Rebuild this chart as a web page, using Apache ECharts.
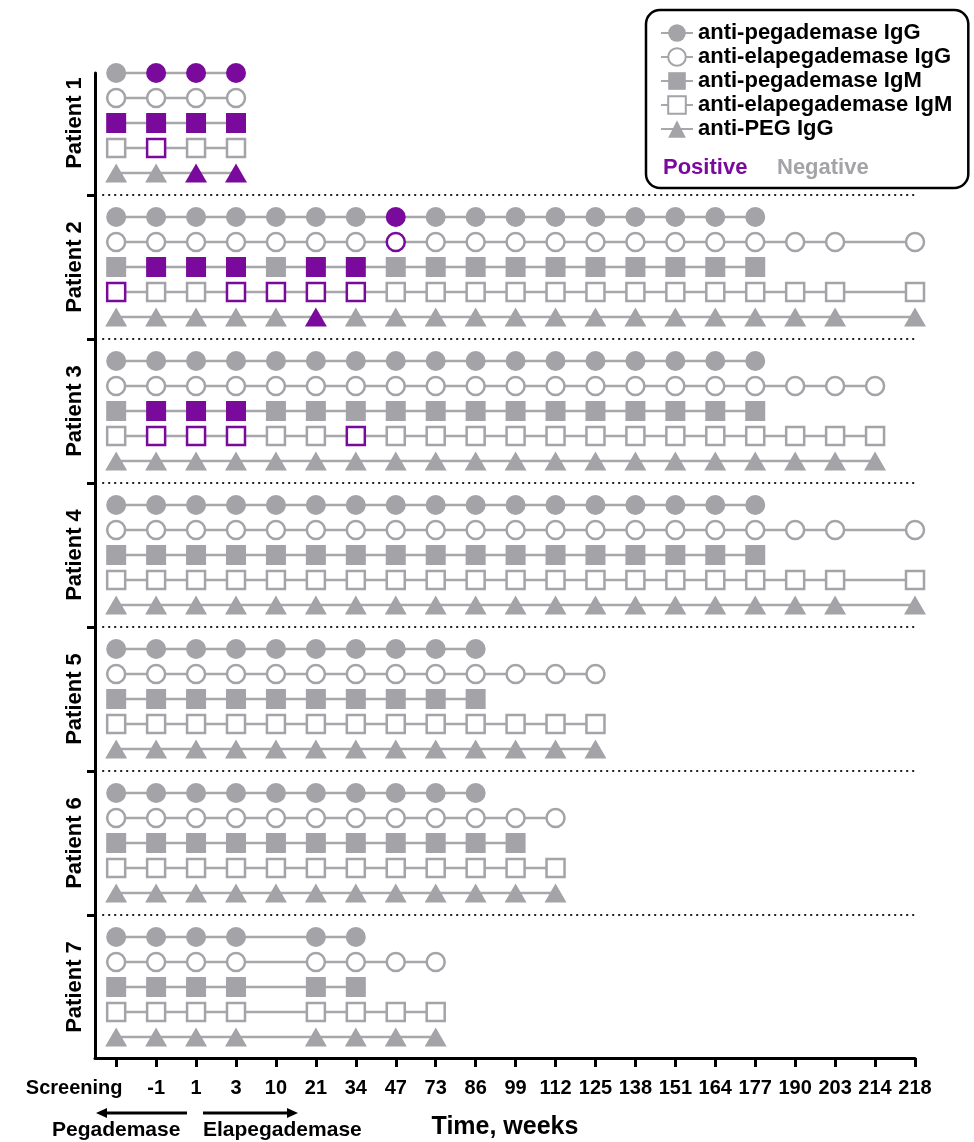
<!DOCTYPE html>
<html>
<head>
<meta charset="utf-8">
<script src="https://cdn.jsdelivr.net/npm/echarts@6/dist/echarts.min.js"></script>
<style>
  html, body { margin: 0; padding: 0; background: #fff; }
  #chart { width: 974px; height: 1142px; }
</style>
</head>
<body>
<div id="chart"></div>
<script>
// Visits, in weeks relative to the switch from pegademase to elapegademase
const timepoints = ['Screening', '-1', '1', '3', '10', '21', '34', '47', '73', '86', '99',
  '112', '125', '138', '151', '164', '177', '190', '203', '214', '218'];

const assays = ['anti-pegademase IgG', 'anti-elapegademase IgG', 'anti-pegademase IgM',
  'anti-elapegademase IgM', 'anti-PEG IgG'];

const patients = ['Patient 1', 'Patient 2', 'Patient 3', 'Patient 4', 'Patient 5', 'Patient 6', 'Patient 7'];

// One string per assay (same order as `assays`), one character per visit:
// 1 = positive, 0 = negative, - = no sample at that visit
const patient1 = ['0111', '0000', '1111', '0100', '0011'];
const patient2 = ['00000001000000000', '0000000100000000000-0', '01110110000000000',
  '1001111000000000000-0', '0000010000000000000-0'];
const patient3 = ['00000000000000000', '00000000000000000000', '01110000000000000',
  '01110010000000000000', '00000000000000000000'];
const patient4 = ['00000000000000000', '0000000000000000000-0', '00000000000000000',
  '0000000000000000000-0', '0000000000000000000-0'];
const patient5 = ['0000000000', '0000000000000', '0000000000', '0000000000000', '0000000000000'];
const patient6 = ['0000000000', '000000000000', '00000000000', '000000000000', '000000000000'];
const patient7 = ['0000-00', '0000-0000', '0000-00', '0000-0000', '0000-0000'];

const results = [patient1, patient2, patient3, patient4, patient5, patient6, patient7];

const FONT = '"Liberation Sans", Arial, Helvetica, sans-serif';
const PURPLE = '#7a0a9c';
const GRAY = '#a3a3a8';
const LINE_GRAY = '#a8a8ac';

// Vertical layout: each patient gets 5 rows plus a gap, measured in row units
const BLOCK = 5.76;
const HALF_GAP = (BLOCK - 4) / 2;

// Marker per assay
const markers = [
  { symbol: 'circle', size: 20, hollow: false },
  { symbol: 'circle', size: 18, hollow: true },
  { symbol: 'rect', size: 20, hollow: false },
  { symbol: 'rect', size: 18, hollow: true },
  { symbol: 'triangle', size: [22, 19], hollow: false }
];

const series = [];
results.forEach((rows, p) => {
  rows.forEach((codes, a) => {
    const m = markers[a];
    const data = [];
    for (let i = 0; i < codes.length; i++) {
      const c = codes[i];
      if (c === '-') continue;
      const col = c === '1' ? PURPLE : GRAY;
      data.push({
        value: [i, p * BLOCK + a],
        itemStyle: m.hollow
          ? { color: '#fff', borderColor: col, borderWidth: 2.5 }
          : { color: col, borderWidth: 0 }
      });
    }
    series.push({
      type: 'line',
      name: assays[a],
      data: data,
      symbol: m.symbol,
      symbolSize: m.size,
      showAllSymbol: true,
      clip: false,
      silent: true,
      z: 3,
      lineStyle: { color: LINE_GRAY, width: 2.5 },
      itemStyle: m.hollow
        ? { color: '#fff', borderColor: GRAY, borderWidth: 2.5 }
        : { color: GRAY, borderWidth: 0 },
      emphasis: { disabled: true }
    });
  });
});

// Dotted separators between patients
const separators = [];
const tickVals = [];
const labelVals = [];
for (let p = 0; p < patients.length; p++) {
  labelVals.push(p * BLOCK + 2);
  if (p > 0) {
    const y = p * BLOCK - HALF_GAP;
    tickVals.push(y);
    separators.push([{ coord: [-0.35, y] }, { coord: [20, y] }]);
  }
}
series.push({
  type: 'line',
  name: 'separators',
  data: [],
  silent: true,
  z: 1,
  markLine: {
    silent: true,
    symbol: ['none', 'none'],
    label: { show: false },
    lineStyle: { color: '#222', width: 2, type: [2, 4] },
    data: separators
  }
});

const chart = echarts.init(document.getElementById('chart'), null, { renderer: 'canvas' });

chart.setOption({
  animation: false,
  backgroundColor: '#fff',
  grid: { left: 95, right: 59, top: 73, bottom: 84, containLabel: false, outerBoundsMode: 'none' },
  legend: {
    data: assays,
    orient: 'vertical',
    left: 646,
    top: 10,
    padding: [12, 16, 48, 14],
    itemWidth: 32,
    itemHeight: 22,
    itemGap: 2,
    borderColor: '#000',
    borderWidth: 2.5,
    borderRadius: 14,
    selectedMode: false,
    textStyle: { fontFamily: FONT, fontSize: 22, fontWeight: 'bold', color: '#000' }
  },
  xAxis: {
    type: 'value',
    min: -0.53,
    max: 20,
    name: 'Time, weeks',
    nameLocation: 'middle',
    nameGap: 57,
    nameTextStyle: { fontFamily: FONT, fontSize: 25, fontWeight: 'bold', color: '#000' },
    splitLine: { show: false },
    axisLine: { show: true, onZero: false, lineStyle: { color: '#000', width: 3 } },
    axisTick: { show: true, customValues: timepoints.map((t, i) => i), length: 9, lineStyle: { color: '#000', width: 3 } },
    axisLabel: {
      customValues: timepoints.map((t, i) => i),
      margin: 20,
      fontFamily: FONT, fontSize: 20, fontWeight: 'bold', color: '#000',
      formatter: v => {
        const t = timepoints[Math.round(v)];
        return Math.round(v) === 0 ? '{s|' + t + '}' : t;
      },
      rich: { s: { fontFamily: FONT, fontSize: 20, fontWeight: 'bold', color: '#000', padding: [0, 84, 0, 0] } }
    }
  },
  yAxis: {
    type: 'value',
    inverse: true,
    min: 0,
    max: 39.4,
    splitLine: { show: false },
    axisLine: { show: true, onZero: false, lineStyle: { color: '#000', width: 3 } },
    axisTick: { show: true, customValues: tickVals, length: 8, lineStyle: { color: '#000', width: 3 } },
    axisLabel: {
      customValues: labelVals,
      rotate: 90,
      margin: 9,
      fontFamily: FONT, fontSize: 22, fontWeight: 'bold', color: '#000',
      formatter: v => patients[Math.round((v - 2) / BLOCK)]
    }
  },
  graphic: [
    { type: 'text', left: 663, top: 157, silent: true,
      style: { text: 'Positive', fill: PURPLE, font: 'bold 22px ' + FONT } },
    { type: 'text', left: 777, top: 157, silent: true,
      style: { text: 'Negative', fill: GRAY, font: 'bold 22px ' + FONT } },
    // treatment arrows under the axis
    { type: 'line', silent: true, shape: { x1: 104, y1: 1113, x2: 187, y2: 1113 },
      style: { stroke: '#000', lineWidth: 3 } },
    { type: 'polygon', silent: true, shape: { points: [[96, 1113], [107, 1108], [107, 1118]] },
      style: { fill: '#000' } },
    { type: 'line', silent: true, shape: { x1: 203, y1: 1113, x2: 290, y2: 1113 },
      style: { stroke: '#000', lineWidth: 3 } },
    { type: 'polygon', silent: true, shape: { points: [[298, 1113], [287, 1108], [287, 1118]] },
      style: { fill: '#000' } },
    { type: 'text', left: 52, top: 1120, silent: true,
      style: { text: 'Pegademase', fill: '#000', font: 'bold 21px ' + FONT } },
    { type: 'text', left: 203, top: 1120, silent: true,
      style: { text: 'Elapegademase', fill: '#000', font: 'bold 21px ' + FONT } }
  ],
  series: series
});
</script>
</body>
</html>
